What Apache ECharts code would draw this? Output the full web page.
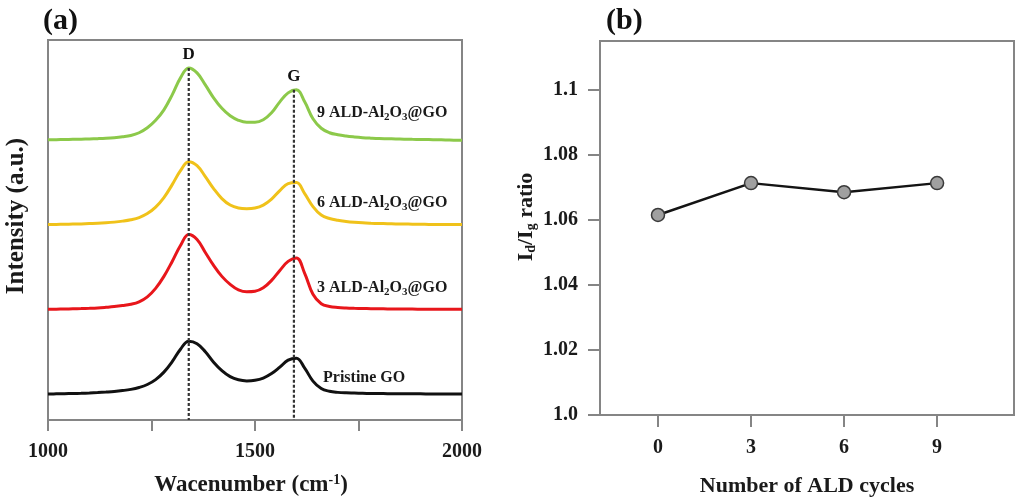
<!DOCTYPE html>
<html>
<head>
<meta charset="utf-8">
<script src="https://cdn.jsdelivr.net/npm/echarts@6/dist/echarts.min.js"></script>
<style>
  html, body { margin: 0; padding: 0; background: #ffffff; }
  #chart { width: 1016px; height: 503px; }
</style>
</head>
<body>
<div id="chart"></div>
<script>
// Raman spectra (a): wavenumber grid and intensities above each trace's own baseline (a.u.)
const wavenumbers = [1000, 1020, 1040, 1060, 1080, 1100, 1120, 1140, 1160, 1180,
  1200, 1220, 1240, 1260, 1280, 1300, 1320, 1340, 1360, 1380,
  1400, 1420, 1440, 1460, 1480, 1500, 1520, 1540, 1560, 1580,
  1600, 1620, 1640, 1660, 1680, 1700, 1720, 1740, 1760, 1780,
  1800, 1820, 1840, 1860, 1880, 1900, 1920, 1940, 1960, 1980, 2000];
const pristineGO = [0, 0.2, 0.4, 0.6, 0.8, 1.1, 1.5, 2, 2.6, 3.5,
  4.7, 6.6, 9.6, 14.5, 22, 32.5, 45, 53, 50.5, 42.5,
  32, 23.5, 17.5, 14.3, 13.2, 13.8, 16, 20.5, 27, 34,
  36, 26, 13, 5.5, 2.8, 1.7, 1.2, 1, 0.8, 0.6,
  0.5, 0.4, 0.3, 0.3, 0.2, 0.2, 0.1, 0, 0, 0, 0];
const ald3 = [0, 0.1, 0.3, 0.5, 0.7, 1, 1.4, 2, 2.7, 3.7,
  5, 7.5, 12.5, 21, 33, 48, 64, 75, 70, 57,
  44, 33, 25, 19.5, 17.5, 18, 21.5, 29, 39, 48,
  51.5, 36, 15, 5.5, 2.8, 1.8, 1.3, 1, 0.8, 0.6,
  0.5, 0.4, 0.3, 0.2, 0.2, 0.1, 0, 0, 0, 0, 0];
const ald6 = [0, 0.1, 0.2, 0.4, 0.6, 0.9, 1.2, 1.7, 2.4, 3.4,
  4.8, 7, 11, 17.5, 27, 40, 54, 63, 59, 48,
  36, 26, 19.5, 16.5, 15.8, 16.5, 19.5, 25.5, 34, 41,
  42, 31, 18, 9.5, 6, 4.2, 3.1, 2.3, 1.7, 1.3,
  1, 0.8, 0.6, 0.5, 0.3, 0.2, 0.1, 0, 0, 0, 0];
const ald9 = [0, 0.1, 0.2, 0.4, 0.6, 0.8, 1.1, 1.5, 2.1, 3,
  4.3, 7, 12, 19.5, 30, 45, 62, 72, 67, 55,
  42, 31.5, 24, 19.5, 17.5, 17.5, 20, 27, 38, 47,
  50, 38, 21, 11.5, 7, 5, 3.7, 2.8, 2.1, 1.6,
  1.2, 1, 0.8, 0.6, 0.4, 0.3, 0.2, 0, -0.2, -0.4, -0.5];
const spectrumNames = ['Pristine GO', '3 ALD-Al2O3@GO', '6 ALD-Al2O3@GO', '9 ALD-Al2O3@GO'];
const spectrumOffsets = [26, 111, 196, 281];
const spectrumColors = ['#111111', '#e8161b', '#f0c21a', '#8cc94a'];
const bandPositions = [1340, 1594];
const bandNames = ['D', 'G'];
const wavenumberTicks = [1000, 1250, 1500, 1750, 2000];
const wavenumberLabels = [1000, 1500, 2000];

// Id/Ig ratio (b)
const cycles = [0, 3, 6, 9];
const idIgRatio = [1.0615, 1.0713, 1.0685, 1.0713];
const ratioTicks = [1.0, 1.02, 1.04, 1.06, 1.08, 1.1];
const ratioTickLabels = ['1.0', '1.02', '1.04', '1.06', '1.08', '1.1'];

const FONT = "'Liberation Serif', 'Times New Roman', serif";
const AXIS_COLOR = '#858585';
const TEXT_COLOR = '#1a1a1a';

const spectra = [pristineGO, ald3, ald6, ald9];

const spectrumSeries = spectra.map((vals, k) => ({
  type: 'line',
  name: spectrumNames[k],
  xAxisIndex: 0,
  yAxisIndex: 0,
  data: wavenumbers.map((w, i) => [w, vals[i] + spectrumOffsets[k]]),
  smooth: 0.4,
  showSymbol: false,
  lineStyle: { color: spectrumColors[k], width: 3 },
  z: 2
}));

// dashed guide from the top trace's band maximum (within ±40 cm-1) down to the axis
function bandGuide(band, tag) {
  const top = spectra.length - 1;
  let peak = -Infinity;
  wavenumbers.forEach((w, i) => {
    if (Math.abs(w - band) <= 40) peak = Math.max(peak, spectra[top][i]);
  });
  peak += spectrumOffsets[top];
  return {
    type: 'line',
    xAxisIndex: 0,
    yAxisIndex: 0,
    data: [
      { value: [band, peak], label: { show: true, formatter: tag } },
      { value: [band, 0], label: { show: false } }
    ],
    showSymbol: true,
    symbol: 'circle',
    symbolSize: 1,
    itemStyle: { color: 'rgba(0,0,0,0)' },
    lineStyle: { color: '#333333', width: 2.2, type: [3, 2] },
    label: {
      show: false, position: 'top', distance: 4,
      fontFamily: FONT, fontWeight: 'bold', fontSize: 17, color: '#111'
    },
    emphasis: { disabled: true },
    z: 5
  };
}

const labelMain = { fontFamily: FONT, fontWeight: 'bold', fontSize: 16, color: TEXT_COLOR, lineHeight: 19 };
const labelSub = { fontFamily: FONT, fontWeight: 'bold', fontSize: 11, color: TEXT_COLOR, lineHeight: 8, verticalAlign: 'bottom' };

function sampleLabel(text, left, cy) {
  return {
    type: 'text', left: left, top: cy - 10,
    style: {
      text: text,
      rich: { m: labelMain, s: labelSub },
      fontFamily: FONT, fontWeight: 'bold', fontSize: 16, fill: TEXT_COLOR
    }
  };
}

const option = {
  animation: false,
  backgroundColor: '#ffffff',
  grid: [
    { left: 48, right: 554, top: 40, bottom: 82, show: true, borderColor: AXIS_COLOR, borderWidth: 2, backgroundColor: 'transparent' },
    { left: 600, right: 2, top: 41, bottom: 88, show: true, borderColor: AXIS_COLOR, borderWidth: 2, backgroundColor: 'transparent' }
  ],
  xAxis: [
    {
      type: 'value', gridIndex: 0, min: 1000, max: 2000,
      axisLine: { show: true, onZero: false, lineStyle: { color: AXIS_COLOR, width: 2 } },
      axisTick: { show: true, customValues: wavenumberTicks, length: 11, lineStyle: { color: AXIS_COLOR, width: 2 } },
      axisLabel: {
        customValues: wavenumberLabels, margin: 22, formatter: v => String(v),
        fontFamily: FONT, fontWeight: 'bold', fontSize: 20, color: TEXT_COLOR
      },
      splitLine: { show: false },
      name: 'Wacenumber (cm{sup|-1})',
      nameLocation: 'middle', nameGap: 53,
      nameTextStyle: {
        fontFamily: FONT, fontWeight: 'bold', fontSize: 23, color: TEXT_COLOR, lineHeight: 25,
        padding: [0, 8, 0, 0],
        rich: { sup: { fontFamily: FONT, fontWeight: 'bold', fontSize: 14, color: TEXT_COLOR, lineHeight: 10, verticalAlign: 'top' } }
      }
    },
    {
      type: 'value', gridIndex: 1, min: -1.87, max: 11.48,
      axisLine: { show: true, onZero: false, lineStyle: { color: AXIS_COLOR, width: 2 } },
      axisTick: { show: true, customValues: cycles, length: 12, lineStyle: { color: AXIS_COLOR, width: 2 } },
      axisLabel: { customValues: cycles, margin: 23, fontFamily: FONT, fontWeight: 'bold', fontSize: 20, color: TEXT_COLOR },
      splitLine: { show: false },
      name: 'Number of ALD cycles',
      nameLocation: 'middle', nameGap: 60,
      nameTextStyle: { fontFamily: FONT, fontWeight: 'bold', fontSize: 22, color: TEXT_COLOR }
    }
  ],
  yAxis: [
    {
      type: 'value', gridIndex: 0, min: 0, max: 381,
      axisLine: { show: true, onZero: false, lineStyle: { color: AXIS_COLOR, width: 2 } },
      axisTick: { show: false },
      axisLabel: { show: false },
      splitLine: { show: false },
      name: 'Intensity (a.u.)',
      nameLocation: 'middle', nameGap: 19, nameRotate: 90,
      nameTextStyle: { fontFamily: FONT, fontWeight: 'bold', fontSize: 25, color: TEXT_COLOR, padding: [0, 0, 0, 28] }
    },
    {
      type: 'value', gridIndex: 1, min: 1.0, max: 1.115,
      axisLine: { show: true, onZero: false, lineStyle: { color: AXIS_COLOR, width: 2 } },
      axisTick: { show: true, customValues: ratioTicks, length: 12, lineStyle: { color: AXIS_COLOR, width: 2 } },
      axisLabel: {
        customValues: ratioTicks, margin: 22,
        fontFamily: FONT, fontWeight: 'bold', fontSize: 20, color: TEXT_COLOR,
        formatter: v => {
          const i = ratioTicks.findIndex(t => Math.abs(t - v) < 1e-6);
          return i >= 0 ? ratioTickLabels[i] : '';
        }
      },
      splitLine: { show: false },
      name: 'I{s|d}/I{s|g} ratio',
      nameLocation: 'middle', nameGap: 62, nameRotate: 90,
      nameTextStyle: {
        fontFamily: FONT, fontWeight: 'bold', fontSize: 22, color: TEXT_COLOR, lineHeight: 24,
        padding: [0, 0, 0, 22],
        rich: { s: { fontFamily: FONT, fontWeight: 'bold', fontSize: 14, color: TEXT_COLOR, lineHeight: 8, verticalAlign: 'bottom' } }
      }
    }
  ],
  series: [
    ...spectrumSeries,
    ...bandPositions.map((b, i) => bandGuide(b, bandNames[i])),
    {
      type: 'line',
      xAxisIndex: 1, yAxisIndex: 1,
      data: cycles.map((c, i) => [c, idIgRatio[i]]),
      symbol: 'circle', symbolSize: 13,
      showSymbol: true,
      lineStyle: { color: '#141414', width: 2.5 },
      itemStyle: { color: '#a0a0a0', borderColor: '#3a3a3a', borderWidth: 1.5 },
      z: 3
    }
  ],
  graphic: [
    { type: 'text', left: 43, top: 6, style: { text: '(a)', fontFamily: FONT, fontWeight: 'bold', fontSize: 30, fill: '#111' } },
    { type: 'text', left: 606, top: 6, style: { text: '(b)', fontFamily: FONT, fontWeight: 'bold', fontSize: 30, fill: '#111' } },
    sampleLabel('{m|9 ALD-Al}{s|2}{m|O}{s|3}{m|@GO}', 317, 115),
    sampleLabel('{m|6 ALD-Al}{s|2}{m|O}{s|3}{m|@GO}', 317, 205),
    sampleLabel('{m|3 ALD-Al}{s|2}{m|O}{s|3}{m|@GO}', 317, 290),
    sampleLabel('{m|Pristine GO}', 323, 380)
  ]
};

const chart = echarts.init(document.getElementById('chart'), null, { renderer: 'canvas' });
chart.setOption(option);
</script>
</body>
</html>
